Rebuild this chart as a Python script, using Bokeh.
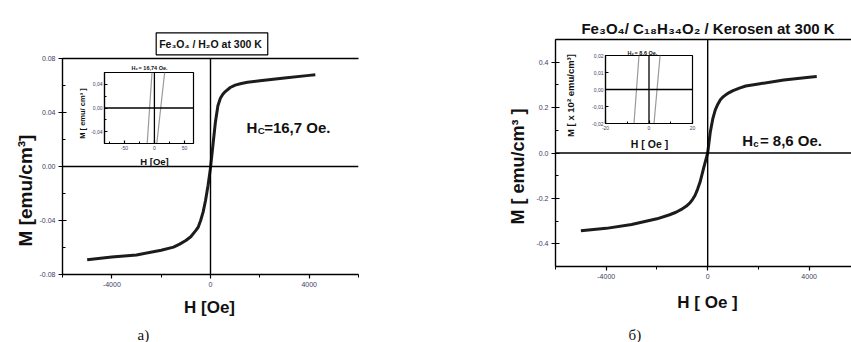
import math
from bokeh.plotting import figure
from bokeh.models import Range1d, LinearAxis, FixedTicker, Span, Label, CustomJSTickFormatter
from bokeh.embed import file_html
from bokeh.resources import INLINE
from bokeh.core.properties import value

# ---- Fe3O4 / H2O at 300 K : magnetisation loop (H in Oe, M in emu/cm3)
h_water = [-5000, -4000, -3000, -2000, -1500, -1250, -1000, -800, -600, -500, -400, -300, -200, -100, 0,
           100, 200, 300, 400, 500, 600, 800, 1000, 1250, 1500, 2000, 3000, 4000, 4250]
m_water = [-0.069, -0.067, -0.0655, -0.062, -0.0597, -0.0575, -0.0548, -0.052, -0.0475, -0.045, -0.040,
           -0.0338, -0.025, -0.014, -0.001,
           0.016, 0.033, 0.045, 0.0505, 0.0535, 0.0555, 0.0585, 0.0603, 0.0615, 0.0624, 0.0636, 0.0656,
           0.0675, 0.068]

# inset: the two branches near H = 0
h_water_desc = [-12, -4]
m_water_desc = [-0.06, 0.06]
h_water_asc = [4, 17]
m_water_asc = [-0.06, 0.06]

# ---- Fe3O4 / C18H34O2 / kerosene at 300 K
h_kero = [-5000, -4000, -3000, -2000, -1500, -1250, -1000, -850, -700, -600, -500, -400, -300, -150, 0,
          100, 200, 300, 400, 500, 600, 700, 850, 1000, 1250, 1500, 2000, 3000, 4000, 4300]
m_kero = [-0.342, -0.332, -0.315, -0.29, -0.272, -0.261, -0.246, -0.235, -0.22, -0.205, -0.187, -0.16,
          -0.128, -0.062, 0.0,
          0.09, 0.15, 0.19, 0.215, 0.235, 0.247, 0.255, 0.266, 0.275, 0.286, 0.295, 0.304, 0.322, 0.334,
          0.337]

h_kero_desc = [-6.9, -4.6]
m_kero_desc = [-0.02, 0.02]
h_kero_asc = [2.3, 5.1]
m_kero_asc = [-0.02, 0.02]

FONT = "Liberation Sans"
TICK_COLOR = "#3c3c64"


def place(fig, left, top):
    fig.styles = {"position": "absolute", "left": f"{left}px", "top": f"{top}px"}


def style_axis(ax, fmt, size="7px", major=(4, 4), minor=(3, 0)):
    ax.formatter = CustomJSTickFormatter(code=fmt)
    ax.axis_line_color = "black"
    ax.axis_line_width = 1.4
    ax.major_tick_line_color = "black"
    ax.minor_tick_line_color = "black"
    ax.major_tick_line_width = 1.2
    ax.minor_tick_line_width = 1.0
    ax.major_tick_in, ax.major_tick_out = major
    ax.minor_tick_in, ax.minor_tick_out = minor
    ax.major_label_text_font = FONT
    ax.major_label_text_font_size = size
    ax.major_label_text_color = TICK_COLOR
    ax.major_label_standoff = 3


def top_border(fig):
    # frame line along the top edge, without ticks or labels
    ax = LinearAxis(ticker=FixedTicker(ticks=[], minor_ticks=[]),
                    axis_line_color="black", axis_line_width=1.4,
                    major_tick_line_color=None, minor_tick_line_color=None)
    fig.add_layout(ax, "above")


def main_panel(width, left, top_b, bottom_b, right_b, xr, yr, xt, xm, yt, ym, yfmt):
    p = figure(width=width, height=342, x_range=Range1d(*xr), y_range=Range1d(*yr),
               output_backend="svg", toolbar_location=None,
               min_border_left=left, min_border_top=top_b,
               min_border_bottom=bottom_b, min_border_right=right_b)
    p.outline_line_color = None
    p.grid.visible = False
    p.background_fill_alpha = 0
    p.border_fill_alpha = 0
    p.xaxis.ticker = FixedTicker(ticks=xt, minor_ticks=xm)
    p.yaxis.ticker = FixedTicker(ticks=yt, minor_ticks=ym)
    style_axis(p.xaxis[0], "return tick.toFixed(0)", major=(0, 4), minor=(0, 3))
    style_axis(p.yaxis[0], yfmt)
    top_border(p)
    p.add_layout(Span(location=0, dimension="width", line_color="black", line_width=1.4))
    p.add_layout(Span(location=0, dimension="height", line_color="black", line_width=1.4))
    return p


def inset_panel(width, height, xr, yr, xt, xm, yt, ym, yfmt):
    q = figure(width=width, height=height, x_range=Range1d(*xr), y_range=Range1d(*yr),
               output_backend="svg", toolbar_location=None,
               min_border_left=30, min_border_top=10, min_border_bottom=15, min_border_right=5)
    q.outline_line_color = "black"
    q.outline_line_width = 1.2
    q.grid.visible = False
    q.background_fill_color = "white"
    q.border_fill_alpha = 0
    q.xaxis.ticker = FixedTicker(ticks=xt, minor_ticks=xm)
    q.yaxis.ticker = FixedTicker(ticks=yt, minor_ticks=ym)
    style_axis(q.xaxis[0], "return tick.toFixed(0)", size="5px", major=(3, 0), minor=(2, 0))
    style_axis(q.yaxis[0], yfmt, size="5px", major=(3, 0), minor=(2, 0))
    for ax in (q.xaxis[0], q.yaxis[0]):
        ax.axis_line_width = 1.2
        ax.major_label_standoff = 2
    q.add_layout(Span(location=0, dimension="width", line_color="black", line_width=1.3))
    q.add_layout(Span(location=0, dimension="height", line_color="black", line_width=1.3))
    return q


# ---- left main plot
pa = main_panel(420, 62, 58, 68, 62, (-6000, 6000), (-0.08, 0.08),
                [-4000, 0, 4000], [-6000, -2000, 2000, 6000],
                [-0.08, -0.04, 0, 0.04, 0.08], [-0.06, -0.02, 0.02, 0.06],
                "return tick.toFixed(2)")
pa.line(h_water, m_water, line_color="#1c1c1c", line_width=3, line_join="round")
place(pa, 0, 0)

# ---- right main plot
pb = main_panel(431, 135, 39, 76, 0, (-6000, 5670), (-0.5, 0.5),
                [-4000, 0, 4000], [-6000, -2000, 2000],
                [-0.4, -0.2, 0, 0.2, 0.4], [-0.5, -0.3, -0.1, 0.1, 0.3, 0.5],
                "return tick.toFixed(1)")
pb.line(h_kero, m_kero, line_color="#1c1c1c", line_width=3, line_join="round")
place(pb, 420, 0)

# ---- insets
ia = inset_panel(124, 96, (-83, 65), (-0.06, 0.06),
                 [-50, 0, 50], [-75, -25, 25],
                 [-0.04, 0, 0.04], [-0.06, -0.02, 0.02, 0.06],
                 "return tick.toFixed(2).replace('.', ',')")
ia.line(h_water_desc, m_water_desc, line_color="#9a9a9a", line_width=1.2)
ia.line(h_water_asc, m_water_asc, line_color="#9a9a9a", line_width=1.2)
place(ia, 74, 62)

ib = inset_panel(122, 93, (-20, 20), (-0.02, 0.02),
                 [-20, 0, 20], [-10, 10],
                 [-0.02, -0.01, 0, 0.01, 0.02], [],
                 "return tick.toFixed(2).replace('.', ',')")
ib.line(h_kero_desc, m_kero_desc, line_color="#9a9a9a", line_width=1.2)
ib.line(h_kero_asc, m_kero_asc, line_color="#9a9a9a", line_width=1.2)
place(ib, 575, 45)

# ---- text layer (pixel coordinates, y measured from the top)
W, H = 851, 342
t = figure(width=W, height=H, x_range=Range1d(0, W), y_range=Range1d(0, H),
           output_backend="svg", toolbar_location=None, min_border=0,
           x_axis_location=None, y_axis_location=None)
t.outline_line_color = None
t.grid.visible = False
t.background_fill_alpha = 0
t.border_fill_alpha = 0
place(t, 0, 0)


def txt(x, y, s, size, align="left", bold=True, angle=0.0, baseline="alphabetic", font=FONT):
    t.text(x=[x], y=[H - y], text=[s], text_font=value(font),
           text_font_size=f"{size}px", text_font_style="bold" if bold else "normal",
           text_align=align, text_baseline=baseline, angle=angle, text_color="#111111")


def hc(x, y, sub, rest, size):
    # H with a subscript letter, followed by the value
    w_h = 0.722 * size
    txt(x, y, "H", size)
    txt(x + w_h + 0.3, y + size * 0.22, sub, size * 0.65)
    txt(x + w_h + 0.65 * size * 0.6 + 1, y, rest, size)


# left panel
t.add_layout(Label(x=155.7, y=H - 43.3, text="Fe₃O₄ / H₂O at  300 K", text_font=FONT,
                   text_font_size="10.5px", text_font_style="bold", text_color="#111111",
                   text_baseline="middle",
                   border_line_color="black", border_line_width=1.2,
                   background_fill_color="white", padding=(3, 5)))
hc(246, 126.7, "C", "=16,7 Oe.", 15)
hc(131, 67, "c", "= 16,74 Oe.", 5.5)
txt(82, 113, "M [ emu/ cm³ ]", 7.5, align="center", angle=math.pi / 2, baseline="middle")
txt(154, 161, "H [Oe]", 9.5, align="center")
txt(25, 190, "M [emu/cm³]", 19, align="center", angle=math.pi / 2, baseline="middle")
txt(209, 307, "H [Oe]", 17, align="center")
txt(137, 334, "a)", 15, bold=False, font="Liberation Serif")

# right panel
txt(707.5, 28, "Fe₃O₄/ C₁₈H₃₄O₂ / Kerosen at 300 K", 15, align="center")
hc(741.7, 140, "c", " = 8,6 Oe.", 15)
hc(627, 52, "c", "= 8,6 Oe.", 5.5)
txt(570, 95, "M [ x 10² emu/cm³]", 9.5, align="center", angle=math.pi / 2, baseline="middle")
txt(649, 143, "H [ Oe ]", 10.5, align="center")
txt(517, 166, "M [ emu/cm³ ]", 18, align="center", angle=math.pi / 2, baseline="middle")
txt(707, 302, "H [ Oe ]", 17, align="center")
txt(628, 334, "б)", 15, bold=False, font="Liberation Serif")

open("out.html", "w").write(file_html([pa, pb, ia, ib, t], INLINE))
